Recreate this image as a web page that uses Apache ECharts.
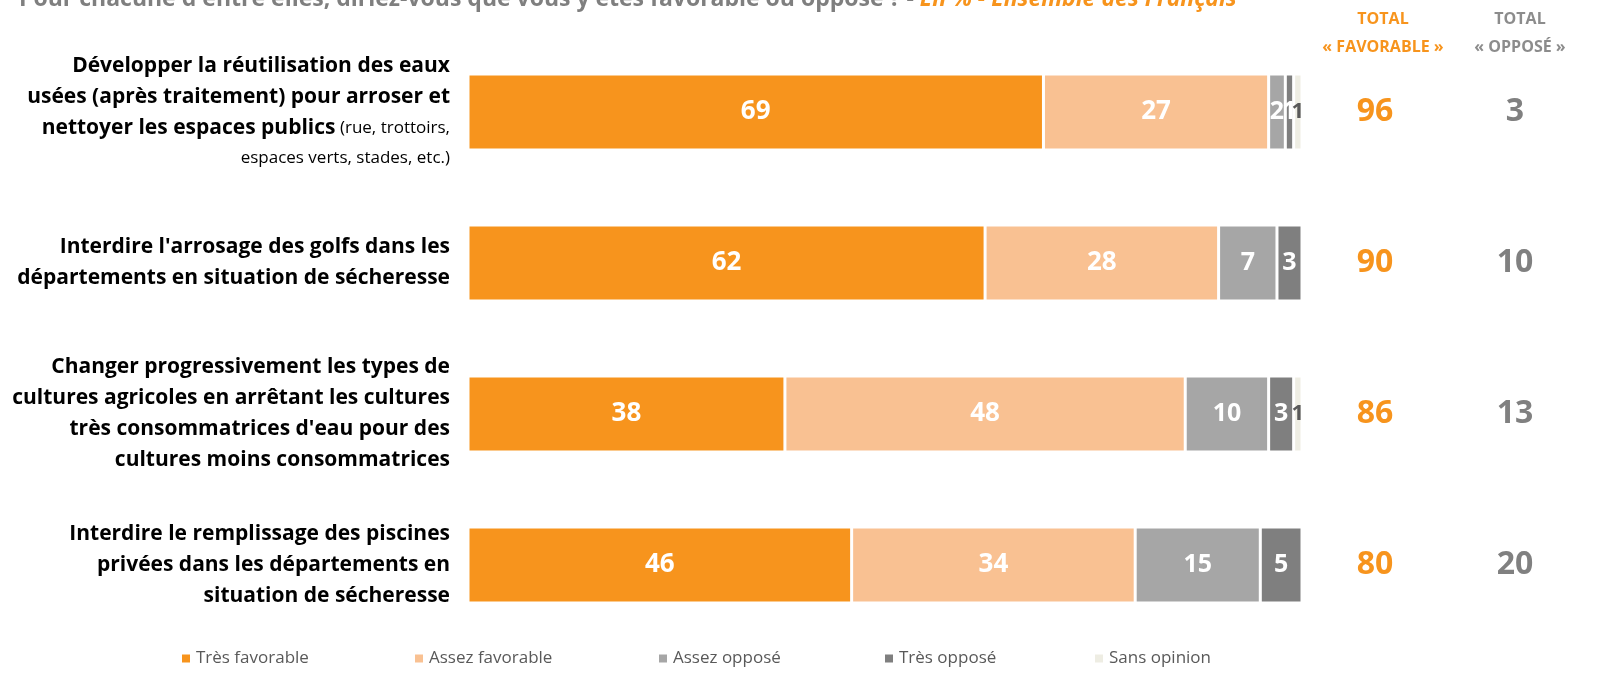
<!DOCTYPE html>
<html><head><meta charset="utf-8">
<script src="https://cdn.jsdelivr.net/npm/echarts@6/dist/echarts.min.js"></script>
<style>html,body{margin:0;padding:0;background:#fff}#c{width:1618px;height:687px}</style>
</head><body><div id="c"></div>
<script>
var categories = [
  "Développer la réutilisation des eaux\nusées (après traitement) pour arroser et\nnettoyer les espaces publics",
  "Interdire l'arrosage des golfs dans les\ndépartements en situation de sécheresse",
  "Changer progressivement les types de\ncultures agricoles en arrêtant les cultures\ntrès consommatrices d'eau pour des\ncultures moins consommatrices",
  "Interdire le remplissage des piscines\nprivées dans les départements en\nsituation de sécheresse"
];
var notes = [" (rue, trottoirs,\nespaces verts, stades, etc.)", "", "", ""];
var seriesNames = ["Très favorable", "Assez favorable", "Assez opposé", "Très opposé", "Sans opinion"];
var tresFavorable = [69, 62, 38, 46];
var assezFavorable = [27, 28, 48, 34];
var assezOppose = [2, 7, 10, 15];
var tresOppose = [1, 3, 3, 5];
var sansOpinion = [1, 0, 1, 0];
var totalFavorable = [96, 90, 86, 80];
var totalOppose = [3, 10, 13, 20];

var FONT = 'Open Sans';
var colors = ["#F7941D", "#F9C192", "#A6A6A6", "#7F7F7F", "#EEEDE3"];
var values = [tresFavorable, assezFavorable, assezOppose, tresOppose, sansOpinion];

function catLabel(v, i) {
  var lines = v.split("\n").map(function (l) { return "{b|" + l + "}"; });
  var note = notes[i];
  if (note) {
    var nl = note.split("\n");
    lines[lines.length - 1] += "{n|" + nl[0] + "}";
    for (var k = 1; k < nl.length; k++) lines.push("{n|" + nl[k] + "}");
  }
  return lines.join("\n");
}

var chart = echarts.init(document.getElementById('c'));
var series = seriesNames.map(function (name, s) {
  return {
    name: name, type: 'bar', stack: 'all', barWidth: 76,
    data: values[s],
    itemStyle: { color: colors[s], borderColor: '#fff', borderWidth: 1.5 },
    label: {
      show: true, position: 'inside',
      fontFamily: FONT, fontWeight: 'bold',
      fontSize: s === 4 ? 22 : (s >= 2 ? 25 : 26),
      color: s === 4 ? '#595959' : '#fff',
      formatter: function (p) { return p.value > 0 ? p.value : ''; }
    },
    emphasis: { disabled: true }
  };
});

var legendX = [175, 408, 652, 878, 1088];
var legends = seriesNames.map(function (n, i) {
  return {
    data: [n], left: legendX[i], top: 645, itemWidth: 10, itemHeight: 10, itemGap: 6,
    icon: 'rect', selectedMode: false,
    textStyle: { fontFamily: FONT, fontSize: 17, color: '#595959' }
  };
});

chart.setOption({
  animation: false,
  title: [{
    left: 14, top: -17,
    text: "{g|Pour chacune d'entre elles, diriez-vous que vous y êtes favorable ou opposé ? - }{o|En % - Ensemble des Français}",
    textStyle: { rich: {
      g: { fontFamily: FONT, fontSize: 23, fontWeight: 'bold', color: '#7F7F7F' },
      o: { fontFamily: FONT, fontSize: 23, fontStyle: 'italic', color: '#F7941D' }
    } }
  }, {
    left: 1378, top: 0, textAlign: 'center',
    text: "TOTAL\n« FAVORABLE »",
    textStyle: { fontFamily: FONT, fontSize: 16, fontWeight: 'bold', color: '#F7941D', lineHeight: 28 }
  }, {
    left: 1515, top: 0, textAlign: 'center',
    text: "TOTAL\n« OPPOSÉ »",
    textStyle: { fontFamily: FONT, fontSize: 16, fontWeight: 'bold', color: '#8C8C8C', lineHeight: 28 }
  }],
  legend: legends,
  grid: { left: 468, right: 316, top: 36.5, bottom: 46.5 },
  xAxis: { type: 'value', min: 0, max: 100, show: false },
  yAxis: [{
    type: 'category', inverse: true, data: categories,
    axisLine: { show: false }, axisTick: { show: false },
    axisLabel: {
      margin: 18, align: 'right', lineHeight: 31,
      formatter: catLabel,
      rich: {
        b: { fontFamily: FONT, fontSize: 21, fontWeight: 'bold', color: '#000', lineHeight: 31 },
        n: { fontFamily: FONT, fontSize: 17, color: '#000', lineHeight: 29 }
      }
    }
  }, {
    type: 'category', inverse: true, data: totalFavorable, position: 'right',
    axisLine: { show: false }, axisTick: { show: false },
    axisLabel: { margin: 73, align: 'center', fontFamily: FONT, fontWeight: 'bold', fontSize: 32, color: '#F7941D' }
  }, {
    type: 'category', inverse: true, data: totalOppose, position: 'right', offset: 140,
    axisLine: { show: false }, axisTick: { show: false },
    axisLabel: { margin: 73, align: 'center', fontFamily: FONT, fontWeight: 'bold', fontSize: 32, color: '#808080' }
  }],
  series: series
});
</script>
</body></html>
